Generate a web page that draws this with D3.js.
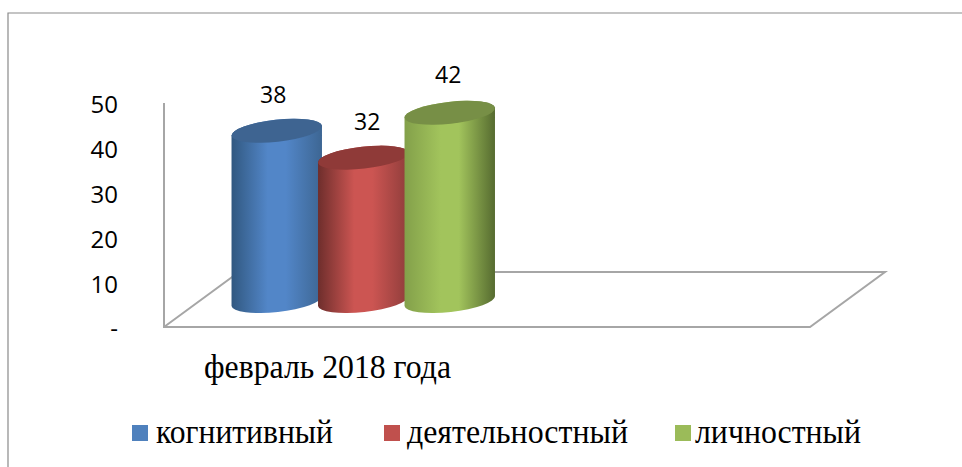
<!DOCTYPE html>
<html lang="ru">
<head>
<meta charset="utf-8">
<title>февраль 2018 года</title>
<script src="https://cdn.jsdelivr.net/npm/d3@7"></script>
<style>
    html, body { margin: 0; padding: 0; background: #fff; overflow: hidden; }
    svg { display: block; }
    .tick-label, .value-label { font-family: "Open Sans", "Noto Sans", sans-serif; fill: #000; }
    .tick-label { font-size: 24px; }
    .value-label { font-size: 23px; }
    .serif-label { font-family: "Liberation Serif", serif; fill: #000; }
</style>
</head>
<body>
<svg id="chart" width="962" height="467"></svg>
<script>
// ===== Data =====
const category = 'февраль 2018 года';
const seriesNames = ['когнитивный', 'деятельностный', 'личностный'];
const seriesValues = [38, 32, 42];
const tickValues = [0, 10, 20, 30, 40, 50];
const tickLabels = ['-', '10', '20', '30', '40', '50'];

// ===== Config =====
const COLORS = [
    { edge: '#315880', mid: '#5286c8', edge2: '#3d6693', top: '#3e6491' },
    { edge: '#6e2e2c', mid: '#cc5552', edge2: '#8f3d3b', top: '#8f3a38' },
    { edge: '#83a04a', mid: '#a2c45c', edge2: '#566b30', top: '#778f46' }
];
const LEGEND_COLORS = ['#4f81bd', '#c0504d', '#9bbb59'];

const floor = { left: 164, right: 810, front: 327, back: 272, depthX: 75 };
const depthLift = 26;
const rx = 45.5, ry = 11, tilt = -6.3;
const valueLabelDx = [-3.5, 4, -1.5];
const valueLabelDy = [-34, -34, -36];

const svg = d3.select('#chart');
const defs = svg.append('defs');

const y = d3.scaleLinear().domain([0, 50]).range([floor.front, 103]);
const x = d3.scaleBand().domain(seriesNames).range([233.5, 493]).paddingInner(0);

// ===== Frame =====
svg.append('path')
    .attr('d', 'M8,467V13H962')
    .attr('fill', 'none')
    .attr('stroke', '#8a8a8a')
    .attr('stroke-width', 1.2);

// ===== Floor & wall =====
svg.append('path')
    .attr('d', `M${floor.left},103V${floor.front}H${floor.right}L${floor.right + floor.depthX},${floor.back}H${floor.left + floor.depthX}L${floor.left},${floor.front}`)
    .attr('fill', 'none')
    .attr('stroke', '#a6a6a6')
    .attr('stroke-width', 2);

// ===== Axis labels =====
svg.selectAll('.tick-label')
    .data(tickValues)
    .enter()
    .append('text')
    .attr('class', 'tick-label')
    .attr('x', 118)
    .attr('y', d => y(d) + 4)
    .attr('text-anchor', 'end')
    .attr('dominant-baseline', 'middle')
    .text((d, i) => tickLabels[i]);

// ===== Cylinders =====
function cylinderPath(cx, topY, baseY) {
    const dy = rx * Math.sin(-tilt * Math.PI / 180);
    const dx = rx * Math.cos(tilt * Math.PI / 180);
    return `M${cx - dx},${topY + dy}L${cx - dx},${baseY + dy}` +
        `A${rx},${ry} ${tilt} 0 0 ${cx + dx},${baseY - dy}` +
        `L${cx + dx},${topY - dy}` +
        `A${rx},${ry} ${tilt} 0 0 ${cx - dx},${topY + dy}Z`;
}

seriesNames.forEach((name, i) => {
    const grad = defs.append('linearGradient')
        .attr('id', `cyl-${i}`)
        .attr('x1', '0%').attr('x2', '100%')
        .attr('y1', '0%').attr('y2', '0%');
    const c = COLORS[i];
    [[0, c.edge], [0.4, c.mid], [0.6, c.mid], [1, c.edge2]].forEach(([o, col]) => {
        grad.append('stop').attr('offset', o).attr('stop-color', col);
    });

    const cx = x(name) + x.bandwidth() / 2;
    const topY = y(seriesValues[i]) - depthLift;
    const baseY = y(0) - depthLift;

    svg.append('path')
        .attr('d', cylinderPath(cx, topY, baseY))
        .attr('fill', `url(#cyl-${i})`);

    svg.append('ellipse')
        .attr('transform', `translate(${cx},${topY}) rotate(${tilt})`)
        .attr('rx', rx)
        .attr('ry', ry)
        .attr('fill', c.top);

    svg.append('text')
        .attr('class', 'value-label')
        .attr('x', cx + valueLabelDx[i])
        .attr('y', topY + valueLabelDy[i])
        .attr('text-anchor', 'middle')
        .attr('dominant-baseline', 'middle')
        .text(seriesValues[i]);
});

// ===== Category label =====
svg.append('text')
    .attr('class', 'serif-label')
    .attr('x', 204)
    .attr('y', 378)
    .attr('font-size', 34)
    .attr('textLength', 247)
    .attr('lengthAdjust', 'spacingAndGlyphs')
    .text(category);

// ===== Legend =====
const legendSwatchX = [132, 384, 675];
const legendTextX = [156, 407, 695];
const legendTextW = [177, 221, 166];

seriesNames.forEach((name, i) => {
    svg.append('rect')
        .attr('x', legendSwatchX[i])
        .attr('y', 425)
        .attr('width', 16)
        .attr('height', 16)
        .attr('fill', LEGEND_COLORS[i]);
    svg.append('text')
        .attr('class', 'serif-label')
        .attr('x', legendTextX[i])
        .attr('y', 443)
        .attr('font-size', 34)
        .attr('textLength', legendTextW[i])
        .attr('lengthAdjust', 'spacingAndGlyphs')
        .text(name);
});
</script>
</body>
</html>
